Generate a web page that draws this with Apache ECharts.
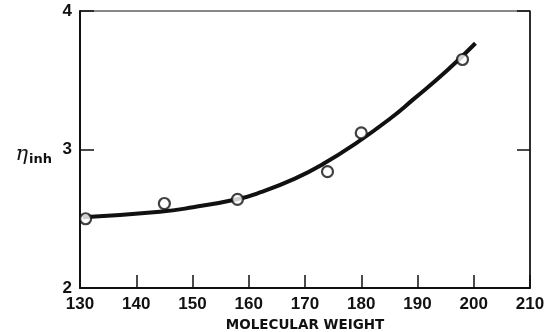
<!DOCTYPE html>
<html>
<head>
<meta charset="utf-8">
<script src="https://cdn.jsdelivr.net/npm/echarts@6/dist/echarts.min.js"></script>
<style>
  html, body { margin: 0; padding: 0; background: #fff; }
  #chart { width: 544px; height: 332px; }
</style>
</head>
<body>
<div id="chart"></div>
<script>
// measured points (molecular weight vs inherent viscosity)
const mol_weight = [131, 145, 158, 174, 180, 198]
const eta_inh = [2.50, 2.61, 2.64, 2.84, 3.12, 3.65]

// fitted curve
const curve_x = [130.5, 144.2, 150.1, 158.1, 162.0, 168.2, 173.2, 179.3, 185.1, 189.2, 195.3, 200.3]
const curve_y = [2.51, 2.55, 2.583, 2.643, 2.69, 2.79, 2.895, 3.052, 3.222, 3.36, 3.572, 3.767]

const x_ticks = [130, 140, 150, 160, 170, 180, 190, 200, 210]
const y_ticks = [2, 3, 4]

const font = 'Liberation Sans'
const chart = echarts.init(document.getElementById('chart'))

let option = {
    animation: false,
    backgroundColor: '#fff',
    grid: {
        left: 80,
        right: 14,
        top: 11,
        bottom: 44,
        outerBoundsMode: 'none',
        containLabel: false,
        show: true,
        borderColor: '#111',
        borderWidth: 1
    },
    xAxis: [{
        type: 'value',
        min: x_ticks[0],
        max: x_ticks[x_ticks.length - 1],
        interval: 10,
        name: 'MOLECULAR WEIGHT',
        nameLocation: 'middle',
        nameGap: 30,
        nameTextStyle: { fontFamily: 'DejaVu Sans', fontWeight: 'bold', fontSize: 13.5, color: '#111' },
        axisLine: { show: true, lineStyle: { color: '#111', width: 2 } },
        axisTick: { show: true, inside: true, length: 13, lineStyle: { color: '#111', width: 1.5 } },
        axisLabel: { fontFamily: font, fontWeight: 'bold', fontSize: 17, color: '#111', margin: 8 },
        splitLine: { show: false }
    }],
    yAxis: [{
        type: 'value',
        min: y_ticks[0],
        max: y_ticks[y_ticks.length - 1],
        interval: 1,
        name: '{a|η}{b|inh}',
        nameLocation: 'middle',
        nameRotate: 0,
        nameGap: 28,
        nameTextStyle: {
            align: 'right',
            padding: [10, 0, 0, 0],
            rich: {
                a: { fontFamily: 'DejaVu Serif', fontStyle: 'italic', fontSize: 21, color: '#111' },
                b: { fontFamily: 'DejaVu Sans', fontWeight: 'bold', fontSize: 13, color: '#111', padding: [10, 0, 0, 1] }
            }
        },
        axisLine: { show: true, lineStyle: { color: '#111', width: 2 } },
        axisTick: { show: true, inside: true, length: 14, lineStyle: { color: '#111', width: 1.5 } },
        axisLabel: { fontFamily: font, fontWeight: 'bold', fontSize: 17, color: '#111', margin: 8 },
        splitLine: { show: false }
    }, {
        type: 'value',
        position: 'right',
        min: y_ticks[0],
        max: y_ticks[y_ticks.length - 1],
        interval: 1,
        axisLine: { show: true, lineStyle: { color: '#111', width: 1.5 } },
        axisTick: { show: true, inside: true, length: 13, lineStyle: { color: '#111', width: 1.5 } },
        axisLabel: { show: false },
        splitLine: { show: false }
    }],
    series: [
        {
            name: 'fit',
            type: 'line',
            smooth: 0.5,
            showSymbol: false,
            data: curve_x.map((x, i) => [x, curve_y[i]]),
            lineStyle: { color: '#111', width: 4, cap: 'butt' },
            z: 2
        },
        {
            name: 'measured',
            type: 'scatter',
            symbol: 'circle',
            symbolSize: 11,
            data: mol_weight.map((x, i) => [x, eta_inh[i]]),
            itemStyle: { color: '#fff', borderColor: '#111', borderWidth: 2.2 },
            z: 3
        }
    ]
}
chart.setOption(option)
</script>
</body>
</html>
